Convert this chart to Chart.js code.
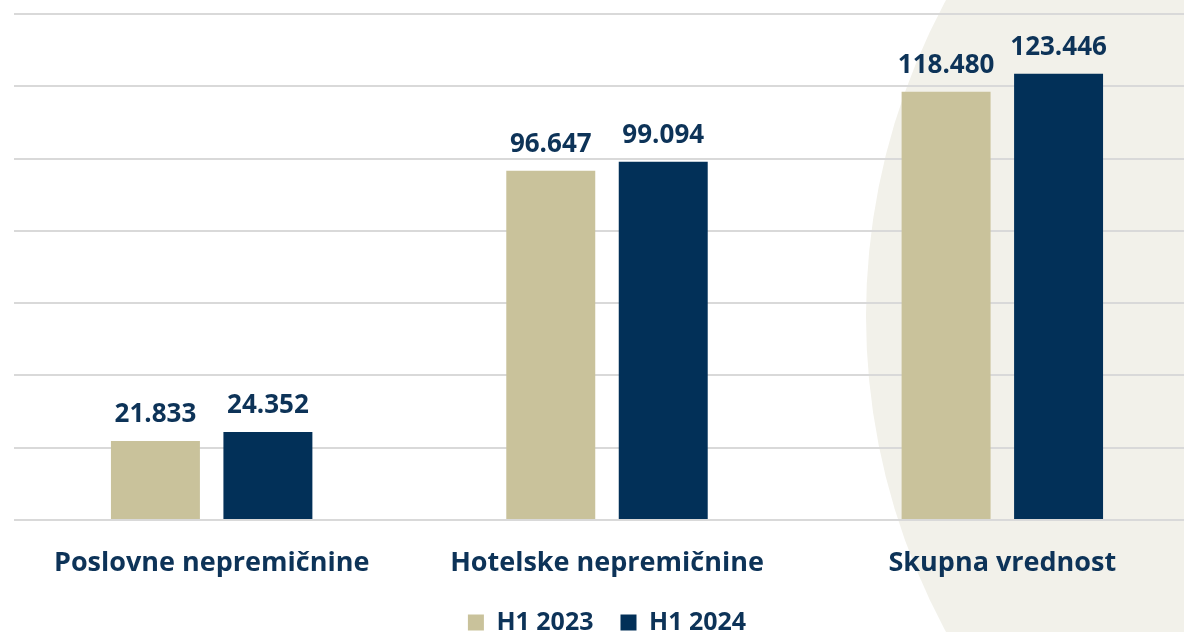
<!DOCTYPE html>
<html>
<head>
<meta charset="utf-8">
<script src="https://cdn.jsdelivr.net/npm/chart.js@4.4.1/dist/chart.umd.min.js"></script>
<style>
html,body{margin:0;padding:0;background:#fff;overflow:hidden;width:1184px;height:632px;}
#wrap{position:absolute;left:0;top:0;width:1200px;height:645px;}
</style>
</head>
<body>
<div id="wrap"><canvas id="c" width="1200" height="645"></canvas></div>
<script>
const categories = ['Poslovne nepremičnine', 'Hotelske nepremičnine', 'Skupna vrednost'];
const seriesNames = ['H1 2023', 'H1 2024'];
const h1_2023 = [21.833, 96.647, 118.480];
const h1_2024 = [24.352, 99.094, 123.446];
const yTicks = [0, 20, 40, 60, 80, 100, 120, 140];

const NAVY = '#023058';
const BEIGE = '#c9c29b';
const TEXT = '#0d3358';
const FONT = '"Open Sans", Lato, sans-serif';

const bgCircle = {
  id: 'bgCircle',
  beforeDraw(chart) {
    const ctx = chart.ctx;
    ctx.save();
    ctx.fillStyle = '#f2f1ea';
    ctx.beginPath();
    ctx.arc(1530, 316, 664, 0, Math.PI * 2);
    ctx.fill();
    ctx.restore();
  }
};

const valueLabels = {
  id: 'valueLabels',
  afterDatasetsDraw(chart) {
    const ctx = chart.ctx;
    ctx.save();
    ctx.font = 'bold 26px ' + FONT;
    ctx.fillStyle = TEXT;
    ctx.textAlign = 'center';
    ctx.textBaseline = 'alphabetic';
    chart.data.datasets.forEach((ds, i) => {
      const meta = chart.getDatasetMeta(i);
      meta.data.forEach((bar, j) => {
        ctx.fillText(ds.data[j].toFixed(3), bar.x, bar.y - 19);
      });
    });
    ctx.restore();
  }
};

new Chart(document.getElementById('c'), {
  type: 'bar',
  data: {
    labels: categories,
    datasets: [
      { label: seriesNames[0], data: h1_2023, backgroundColor: BEIGE },
      { label: seriesNames[1], data: h1_2024, backgroundColor: NAVY }
    ]
  },
  options: {
    responsive: false,
    animation: false,
    devicePixelRatio: 1,
    layout: { padding: { left: 14, right: 0, top: 14, bottom: 0 } },
    datasets: { bar: { categoryPercentage: 0.569, barPercentage: 0.791 } },
    scales: {
      x: {
        grid: { display: false, drawTicks: false },
        border: { display: false },
        ticks: { color: TEXT, font: { family: FONT, size: 27, weight: 'bold' }, padding: 27 },
        afterFit(scale) { scale.height = 63; }
      },
      y: {
        min: 0, max: 140,
        afterBuildTicks(axis) { axis.ticks = yTicks.map(v => ({ value: v })); },
        grid: { color: '#d9d9d9', lineWidth: 2, drawTicks: false },
        border: { display: false },
        ticks: { display: false }
      }
    },
    plugins: {
      tooltip: { enabled: false },
      legend: {
        position: 'bottom',
        labels: {
          color: TEXT,
          boxWidth: 16, boxHeight: 16,
          padding: 27,
          font: { family: FONT, size: 25, weight: 'bold' }
        }
      }
    }
  },
  plugins: [bgCircle, valueLabels]
});
</script>
</body>
</html>
